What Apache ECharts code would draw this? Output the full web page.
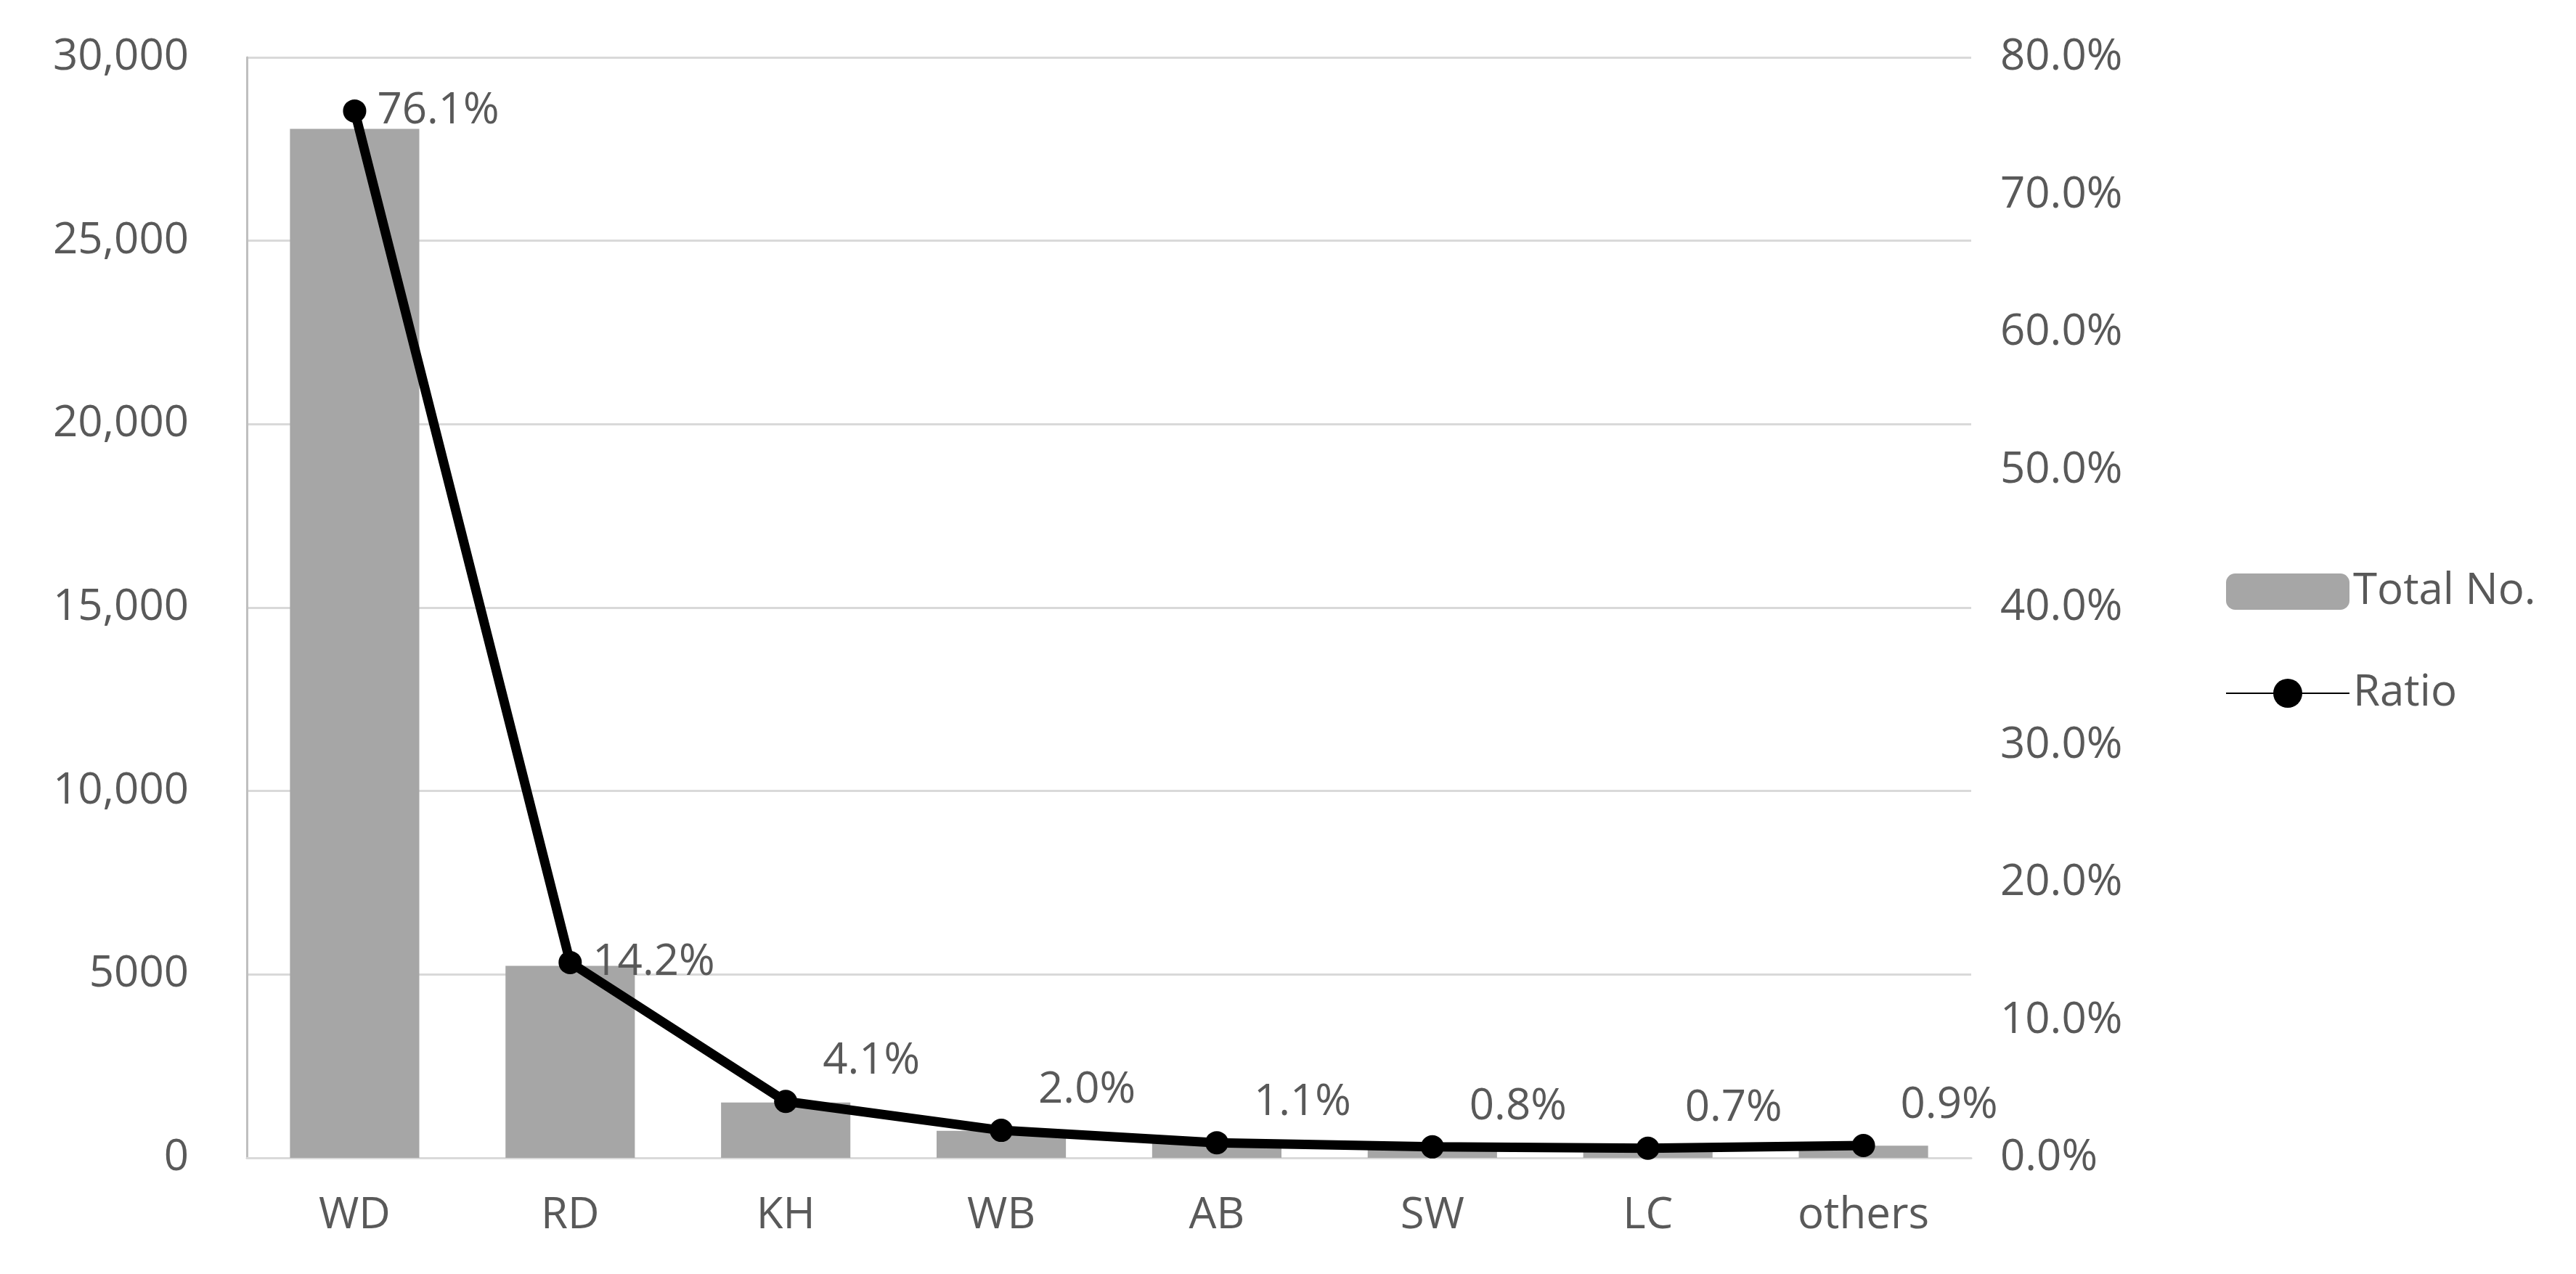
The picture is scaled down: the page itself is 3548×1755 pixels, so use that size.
<!doctype html>
<html lang="en">
<head>
<meta charset="UTF-8">
<script src="https://cdn.jsdelivr.net/npm/echarts@6/dist/echarts.min.js"></script>
<title>Total No. and Ratio</title>
</head>
<body style="margin:0">
<div id="main" style="width:3548px;height:1755px;"></div>
<script type="text/javascript">
    // data
    var categories = ['WD', 'RD', 'KH', 'WB', 'AB', 'SW', 'LC', 'others'];
    var totalNo = [28050, 5234, 1511, 737, 405, 295, 258, 332];
    var ratio = [76.1, 14.2, 4.1, 2.0, 1.1, 0.8, 0.7, 0.9];

    var txt = '#595959';
    var font = 'Open Sans';
    var myChart = echarts.init(document.getElementById('main'));

    var ratioData = ratio.map(function (v, i) {
        var off = i < 2 ? [10, 0] : [30, -55];
        return { value: v, label: { offset: off } };
    });

    var option = {
        textStyle: { fontFamily: font },
        grid: { left: 340, right: 833, top: 79, bottom: 160 },
        legend: {
            orient: 'vertical',
            left: 3060,
            top: 780,
            itemGap: 80,
            itemWidth: 170,
            itemHeight: 50,
            textStyle: { fontSize: 60, color: txt, fontFamily: font },
            data: ['Total No.', 'Ratio']
        },
        xAxis: {
            type: 'category',
            data: categories,
            axisTick: { show: false },
            axisLine: { lineStyle: { color: '#d9d9d9', width: 3 } },
            axisLabel: { fontSize: 60, color: txt, margin: 50 }
        },
        yAxis: [{
            type: 'value',
            min: 0, max: 30000, interval: 5000,
            axisLine: { show: true, lineStyle: { color: '#bfbfbf', width: 3 } },
            splitLine: { lineStyle: { color: '#d9d9d9', width: 3 } },
            axisLabel: {
                fontSize: 60, color: txt, margin: 80,
                formatter: function (v) { return v >= 10000 ? v.toLocaleString('en-US') : String(v); }
            }
        }, {
            type: 'value',
            min: 0, max: 80, interval: 10,
            splitLine: { show: false },
            axisLabel: {
                fontSize: 60, color: txt, margin: 40,
                formatter: function (v) { return v.toFixed(1) + '%'; }
            }
        }],
        series: [{
            name: 'Total No.',
            type: 'bar',
            data: totalNo,
            barCategoryGap: '40%',
            itemStyle: { color: '#a6a6a6' }
        }, {
            name: 'Ratio',
            type: 'line',
            yAxisIndex: 1,
            data: ratioData,
            symbol: 'circle',
            symbolSize: 32,
            lineStyle: { color: '#000', width: 13 },
            itemStyle: { color: '#000' },
            label: {
                show: true,
                position: 'right',
                fontSize: 60,
                color: txt,
                formatter: function (p) { return p.value.toFixed(1) + '%'; }
            }
        }]
    };
    myChart.setOption(option);
</script>
</body>
</html>
